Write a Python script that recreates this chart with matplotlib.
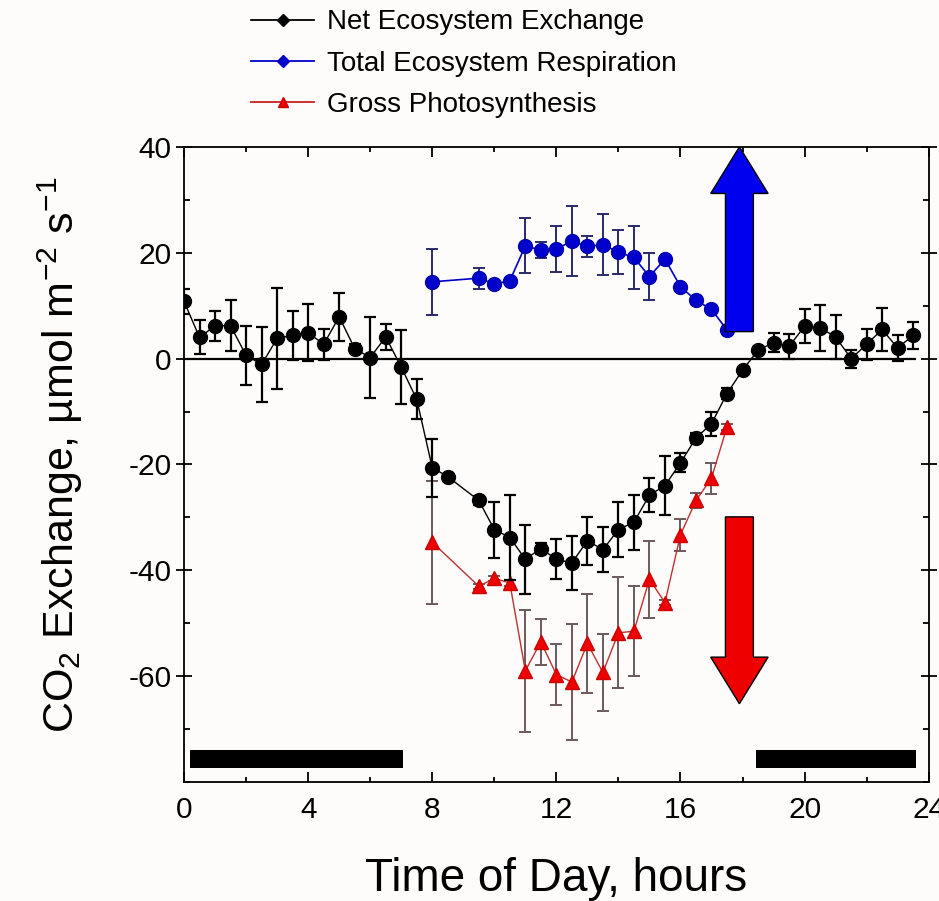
import numpy as np
import matplotlib
matplotlib.use('Agg')
import matplotlib.pyplot as plt
from matplotlib.patches import FancyArrow
from matplotlib.lines import Line2D

plt.rcParams['font.family'] = ['Liberation Sans', 'DejaVu Sans']
plt.rcParams['mathtext.fontset'] = 'custom'
plt.rcParams['mathtext.rm'] = 'Liberation Sans'
plt.rcParams['mathtext.it'] = 'Liberation Sans:italic'
plt.rcParams['axes.unicode_minus'] = False

# ***Data***

# Net Ecosystem Exchange (half-hourly, 9:00 missing)
nee_hours = [0.0, 0.5, 1.0, 1.5, 2.0, 2.5, 3.0, 3.5, 4.0, 4.5, 5.0, 5.5,
             6.0, 6.5, 7.0, 7.5, 8.0, 8.5, 9.5, 10.0, 10.5, 11.0, 11.5,
             12.0, 12.5, 13.0, 13.5, 14.0, 14.5, 15.0, 15.5, 16.0, 16.5,
             17.0, 17.5, 18.0, 18.5, 19.0, 19.5, 20.0, 20.5, 21.0, 21.5,
             22.0, 22.5, 23.0, 23.5]
nee = [10.8, 4.0, 6.2, 6.2, 0.6, -1.1, 3.8, 4.4, 4.9, 2.7, 7.9, 1.9,
       0.2, 4.1, -1.6, -7.7, -20.6, -22.3, -26.8, -32.3, -33.8, -37.9, -35.9,
       -37.9, -38.6, -34.4, -36.1, -32.3, -30.9, -25.8, -24.0, -19.7, -15.0,
       -12.3, -6.6, -2.2, 1.6, 3.0, 2.3, 6.1, 5.8, 4.1, 0.0,
       2.7, 5.5, 2.0, 4.4]
nee_err = [2.3, 3.2, 2.8, 4.8, 5.6, 7.1, 9.5, 4.6, 5.4, 2.9, 4.5, 0.8,
           7.6, 2.4, 7.0, 3.8, 5.5, 0.5, 0.8, 5.3, 8.0, 6.5, 1.0,
           3.8, 5.1, 4.5, 4.2, 5.2, 5.2, 3.2, 5.6, 1.8, 1.0,
           2.3, 1.0, 0.5, 0.5, 1.8, 2.4, 3.2, 4.3, 4.2, 1.7,
           2.9, 4.0, 2.5, 2.6]

# Total Ecosystem Respiration and Gross Photosynthesis (daytime)
day_hours = [8.0, 9.5, 10.0, 10.5, 11.0, 11.5, 12.0, 12.5, 13.0, 13.5,
             14.0, 14.5, 15.0, 15.5, 16.0, 16.5, 17.0, 17.5]
ter = [14.5, 15.2, 14.1, 14.7, 21.3, 20.5, 20.7, 22.2, 21.2, 21.5,
       20.1, 19.1, 15.5, 18.8, 13.6, 11.0, 9.3, 5.4]
ter_err = [6.2, 2.0, 0.5, 0.5, 5.2, 1.5, 4.3, 6.6, 2.0, 5.8,
           4.2, 5.9, 4.4, 0.5, 0.5, 0.5, 0.5, 0.5]
gp_flux = [-34.7, -43.0, -41.5, -42.4, -59.0, -53.5, -59.7, -61.1, -53.8, -59.3,
           -51.8, -51.5, -41.7, -46.1, -33.3, -26.8, -22.6, -12.9]
gp_err = [11.6, 0.5, 0.5, 0.5, 11.6, 4.4, 5.7, 10.9, 9.4, 7.2,
          10.5, 8.5, 7.3, 0.5, 3.0, 1.5, 2.9, 0.5]

series_labels = ['Net Ecosystem Exchange', 'Total Ecosystem Respiration',
                 'Gross Photosynthesis']

# Night periods (start, length) in hours
night = [(0.2, 6.85), (18.45, 5.15)]

# ***Figure***
fig = plt.figure(figsize=(9.39, 9.01), dpi=100, facecolor='#fefcfa')
ax = fig.add_axes([0.196, 0.132, 0.793, 0.705])
ax.set_facecolor('#fefcfa')

ax.hlines(0, nee_hours[0], nee_hours[-1] + 0.1, color='black', lw=1.6, zorder=1)

ax.errorbar(nee_hours, nee, yerr=nee_err, color='black', lw=1.0, marker='o',
            ms=10, mfc='black', mec='black', ecolor='black', elinewidth=1.6,
            capsize=4.5, capthick=1.6, zorder=4)
ax.errorbar(day_hours, ter, yerr=ter_err, color='#0000cc', lw=1.2, marker='o',
            ms=10, mfc='#0000cc', mec='#0000aa', ecolor='#2a2a6a', elinewidth=1.4,
            capsize=4.5, capthick=1.4, zorder=3)
ax.errorbar(day_hours, gp_flux, yerr=gp_err, color='#c03030', lw=1.0, marker='^',
            ms=10, mfc='#ee0000', mec='#cc0000', ecolor='#6a5a5a', elinewidth=1.4,
            capsize=4.5, capthick=1.4, zorder=3)

# night bars
ax.broken_barh(night, (-77.3, 3.4), facecolors='black', zorder=2)

# arrows
ax.add_patch(FancyArrow(17.9, 5.1, 0, 34.9, width=0.9, head_width=1.85,
                        head_length=8.8, length_includes_head=True,
                        fc='#0000ee', ec='black', lw=1.0, zorder=5))
ax.add_patch(FancyArrow(17.9, -29.9, 0, -35.3, width=0.9, head_width=1.85,
                        head_length=8.8, length_includes_head=True,
                        fc='#ee0000', ec='black', lw=1.0, zorder=5))

ax.set_xlim(0, 24)
ax.set_ylim(-80, 40)
ax.set_xticks(np.arange(0, 25, 4))
ax.set_xticks(np.arange(0, 25, 2), minor=True)
ax.set_yticks([-60, -40, -20, 0, 20, 40])
ax.set_yticks(np.arange(-80, 41, 10), minor=True)
ax.tick_params(which='both', top=True, right=True, labelsize=21.5, width=1.3)
ax.tick_params(axis='x', which='major', direction='in', length=7, pad=10)
ax.tick_params(axis='x', which='minor', direction='in', length=3.5)
ax.tick_params(axis='y', which='major', direction='inout', length=12, pad=3)
ax.tick_params(axis='y', which='minor', direction='in', length=4)
for s in ax.spines.values():
    s.set_linewidth(1.3)

ax.set_xlabel('Time of Day, hours', fontsize=33, labelpad=24)
ax.set_ylabel('CO$_2$ Exchange, µmol m$^{-2}$ s$^{-1}$', fontsize=31)
ax.yaxis.set_label_coords(-0.133, 0.515)

# legend: plain line + marker entries
handles = [
    Line2D([], [], color='black', lw=1.3, marker='D', ms=6, mfc='black', mec='black'),
    Line2D([], [], color='#0000cc', lw=1.3, marker='D', ms=6, mfc='#0000cc', mec='#0000cc'),
    Line2D([], [], color='#cc2020', lw=1.3, marker='^', ms=7, mfc='#ee0000', mec='#cc0000'),
]
fig.legend(handles, series_labels, loc='upper left', bbox_to_anchor=(0.255, 1.002),
           frameon=False, fontsize=20, handlelength=2.3, handletextpad=0.45,
           labelspacing=0.55, borderaxespad=0.0)

fig.savefig('out.png', dpi=100, facecolor=fig.get_facecolor())
